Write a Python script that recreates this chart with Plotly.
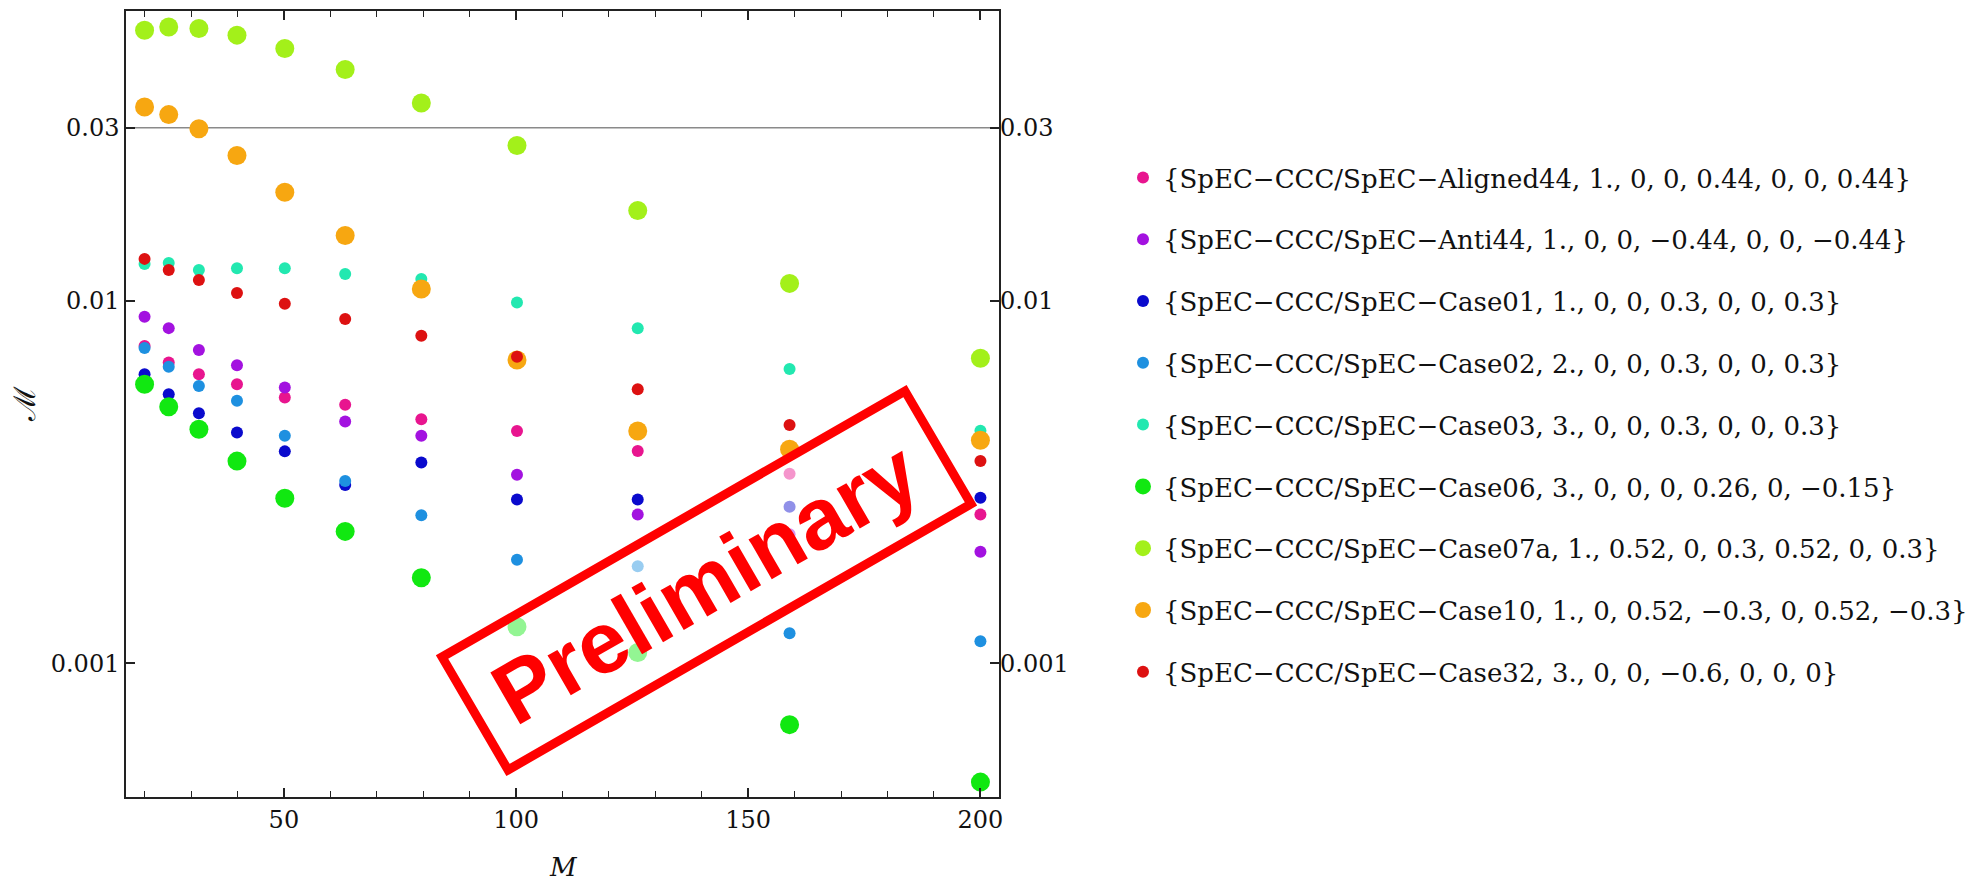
import plotly.graph_objects as go

# ---------------- data ----------------
mass = [20, 25.2, 31.7, 39.9, 50.2, 63.2, 79.6, 100.2, 126.2, 158.9, 200]

aligned44 = [0.0075, 0.00675, 0.00627, 0.00588, 0.00541, 0.00516, 0.00471, 0.00437, 0.00385, 0.00333, 0.00257]
anti44 = [0.00903, 0.0084, 0.00731, 0.00664, 0.00576, 0.00464, 0.00424, 0.00331, 0.00257, 0.00227, 0.00203]
case01 = [0.00627, 0.00552, 0.00489, 0.00433, 0.00384, 0.0031, 0.00358, 0.00283, 0.00283, 0.0027, 0.00286]
case02 = [0.0074, 0.00657, 0.00582, 0.0053, 0.00424, 0.00318, 0.00256, 0.00193, 0.00185, 0.00121, 0.00115]
case03 = [0.01263, 0.0127, 0.01215, 0.01228, 0.01228, 0.01185, 0.01148, 0.00989, 0.00839, 0.00648, 0.00438]
case06 = [0.00588, 0.0051, 0.00442, 0.00361, 0.00285, 0.00231, 0.00172, 0.00126, 0.00107, 0.000677, 0.00047]
case07a = [0.0557, 0.0569, 0.0563, 0.054, 0.0496, 0.0434, 0.0351, 0.0268, 0.01773, 0.01116, 0.00694]
case10 = [0.0342, 0.0326, 0.0298, 0.02515, 0.0199, 0.01512, 0.01077, 0.00686, 0.00437, 0.00389, 0.00412]
case32 = [0.01304, 0.01215, 0.0114, 0.0105, 0.0098, 0.0089, 0.008, 0.007, 0.0057, 0.00454, 0.00361]

M = "\u2212"
names = [
    f"{{SpEC{M}CCC/SpEC{M}Aligned44, 1., 0, 0, 0.44, 0, 0, 0.44}}",
    f"{{SpEC{M}CCC/SpEC{M}Anti44, 1., 0, 0, {M}0.44, 0, 0, {M}0.44}}",
    f"{{SpEC{M}CCC/SpEC{M}Case01, 1., 0, 0, 0.3, 0, 0, 0.3}}",
    f"{{SpEC{M}CCC/SpEC{M}Case02, 2., 0, 0, 0.3, 0, 0, 0.3}}",
    f"{{SpEC{M}CCC/SpEC{M}Case03, 3., 0, 0, 0.3, 0, 0, 0.3}}",
    f"{{SpEC{M}CCC/SpEC{M}Case06, 3., 0, 0, 0, 0.26, 0, {M}0.15}}",
    f"{{SpEC{M}CCC/SpEC{M}Case07a, 1., 0.52, 0, 0.3, 0.52, 0, 0.3}}",
    f"{{SpEC{M}CCC/SpEC{M}Case10, 1., 0, 0.52, {M}0.3, 0, 0.52, {M}0.3}}",
    f"{{SpEC{M}CCC/SpEC{M}Case32, 3., 0, 0, {M}0.6, 0, 0, 0}}",
]
series = [aligned44, anti44, case01, case02, case03, case06, case07a, case10, case32]
colors = ["#e8158f", "#a312e0", "#0a0acd", "#1e90e0", "#22e8b0",
          "#11e811", "#a3f01a", "#f7a711", "#dd1111"]
sizes = [12, 12, 12, 12, 12, 19, 19, 19, 12]

y_ticks = [0.001, 0.01, 0.03]
y_ticktext = ["0.001", "0.01", "0.03"]
ref_line = 0.03

# ---------------- figure ----------------
W, H = 1986, 882
ML, MR, MT, MB = 126, 987, 11, 85
PW, PH = W - ML - MR, H - MT - MB

def px2paper(px, py):
    return (px - ML) / PW, 1 - (py - MT) / PH

fig = go.Figure()
for i, (nm, ys, c, s) in enumerate(zip(names, series, colors, sizes)):
    fig.add_trace(go.Scatter(
        x=mass, y=ys, mode="markers", name=nm,
        legendgroup=f"g{i}",
        marker=dict(color=c, size=s, line=dict(width=0)),
    ))

# dummy trace to activate right axis
fig.add_trace(go.Scatter(x=[None], y=[None], yaxis="y2", showlegend=False,
                         hoverinfo="skip"))

tickfont = dict(family="DejaVu Serif", size=24, color="#111")

fig.update_layout(
    width=W, height=H,
    margin=dict(l=ML, r=MR, t=MT, b=MB, autoexpand=False),
    paper_bgcolor="white", plot_bgcolor="white",
    showlegend=True,
    legend=dict(
        x=px2paper(1123, 0)[0], y=px2paper(0, 154)[1],
        xanchor="left", yanchor="top",
        font=dict(family="DejaVu Serif", size=26, color="#111"),
        tracegroupgap=25, itemsizing="trace",
        bgcolor="rgba(0,0,0,0)",
    ),
    xaxis=dict(
        range=[16.0, 204.0], tickmode="linear", tick0=0, dtick=50,
        ticks="inside", ticklen=9, tickwidth=1.5, tickcolor="#222",
        showline=True, linecolor="#222", linewidth=1.5, mirror="ticks",
        showgrid=False, zeroline=False, tickfont=tickfont,
        minor=dict(dtick=10, tick0=0, ticks="inside", ticklen=6,
                   tickwidth=1.2, tickcolor="#222", showgrid=False),
    ),
    yaxis=dict(
        type="log", range=[-3.369, -1.201],
        tickmode="array", tickvals=y_ticks, ticktext=y_ticktext,
        ticks="inside", ticklen=9, tickwidth=1.5, tickcolor="#222",
        showline=True, linecolor="#222", linewidth=1.5, mirror="ticks",
        showgrid=False, zeroline=False, tickfont=tickfont,
    ),
    yaxis2=dict(
        type="log", range=[-3.369, -1.201], overlaying="y", side="right",
        tickmode="array", tickvals=y_ticks, ticktext=y_ticktext,
        ticks="", showline=False, showgrid=False, zeroline=False,
        tickfont=tickfont,
    ),
)

# reference grid line at 0.03
fig.add_shape(type="line", xref="paper", x0=0, x1=1, yref="y", y0=ref_line, y1=ref_line,
              line=dict(color="#8a8a8a", width=1.5), layer="below")

# "Preliminary" stamp
corners = [(442, 657), (905, 391), (971, 504), (508, 770)]
pc = [px2paper(*p) for p in corners]
path = "M " + " L ".join(f"{x:.4f},{y:.4f}" for x, y in pc) + " Z"
fig.add_shape(type="path", xref="paper", yref="paper", path=path,
              fillcolor="rgba(255,255,255,0.55)",
              line=dict(color="#ff0000", width=9), layer="above")
cx, cy = px2paper(705, 582)
fig.add_annotation(x=cx, y=cy, xref="paper", yref="paper", showarrow=False,
                   text="<b>Preliminary</b>", textangle=-30,
                   font=dict(family="Liberation Sans", size=87, color="#ff0000"),
                   xanchor="center", yanchor="middle")

# axis titles
tx, ty = px2paper(563, 867)
fig.add_annotation(x=tx, y=ty, xref="paper", yref="paper", showarrow=False,
                   text="<i>M</i>", font=dict(family="DejaVu Serif", size=26, color="#111"),
                   xanchor="center", yanchor="middle")
lx, ly = px2paper(24, 404)
fig.add_annotation(x=lx, y=ly, xref="paper", yref="paper", showarrow=False,
                   text="\u2133", textangle=-90,
                   font=dict(family="DejaVu Serif", size=30, color="#111"),
                   xanchor="center", yanchor="middle")

fig.write_html("out.html")
